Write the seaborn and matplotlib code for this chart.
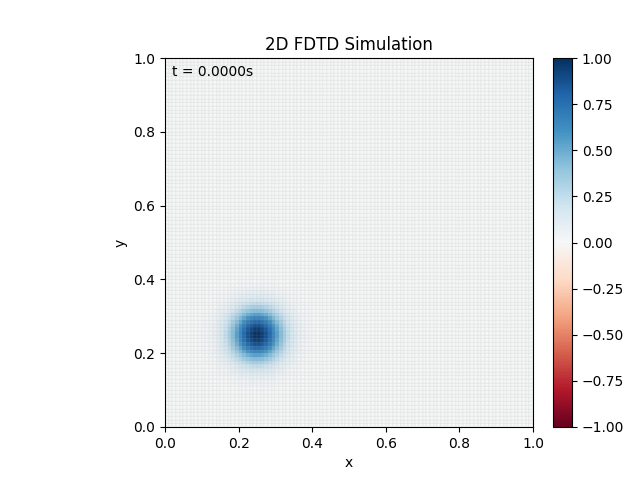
import matplotlib
matplotlib.use("Agg")
import matplotlib.pyplot as plt
import numpy as np
import seaborn as sns

# field parameters (initial gaussian pulse at t = 0)
n_cells = 100
pulse_x = 0.25
pulse_y = 0.25
pulse_width = 0.05
pulse_amp = 1.0
t_label = "t = 0.0000s"

x = np.linspace(0, 1, n_cells + 1)
y = np.linspace(0, 1, n_cells + 1)
xc = (x[:-1] + x[1:]) / 2
yc = (y[:-1] + y[1:]) / 2
X, Y = np.meshgrid(xc, yc)
field = pulse_amp * np.exp(-((X - pulse_x) ** 2 + (Y - pulse_y) ** 2) / (2 * pulse_width ** 2))

cmap = sns.color_palette("RdBu", as_cmap=True)
fig = plt.figure(figsize=(6.4, 4.8), dpi=100)
ax = fig.add_axes([165 / 640, 53 / 480, 368 / 640, 369 / 480])
cax = fig.add_axes([553 / 640, 53 / 480, 19 / 640, 369 / 480])
mesh = ax.pcolormesh(x, y, field, cmap=cmap, vmin=-1, vmax=1,
                     edgecolors=(0.6, 0.6, 0.6, 0.06), linewidth=0.3)
fig.colorbar(mesh, cax=cax)
ax.set_xlim(0, 1)
ax.set_ylim(0, 1)
ax.set_xlabel("x")
ax.set_ylabel("y")
ax.set_title("2D FDTD Simulation")
ax.text(0.02, 0.98, t_label, transform=ax.transAxes, va="top", ha="left")
fig.savefig("out.png", dpi=100)
